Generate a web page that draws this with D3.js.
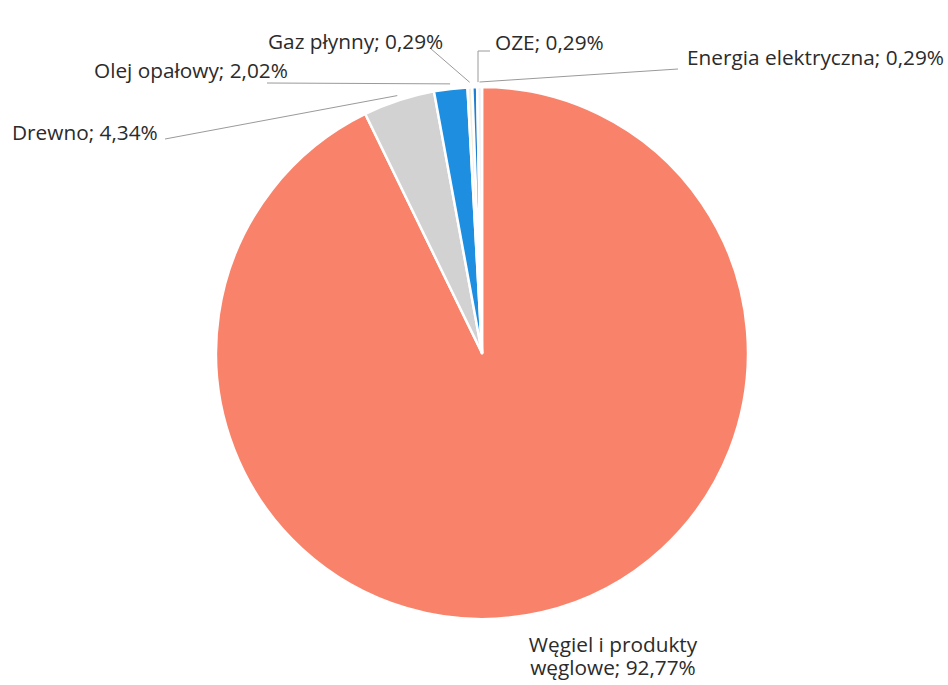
<!DOCTYPE html>
<html>
<head>
<meta charset="utf-8">
<script src="https://cdn.jsdelivr.net/npm/d3@7"></script>
<style>
  html, body { margin: 0; padding: 0; background: #fff; }
  svg { display: block; }
  text { font-family: "Open Sans", Lato, sans-serif; fill: #2b2b2b; }
</style>
</head>
<body>
<svg id="chart" width="948" height="685"></svg>
<script>
// Struktura paliw – udział procentowy
const categories = ["Węgiel i produkty węglowe", "Drewno", "Olej opałowy", "Gaz płynny", "OZE", "Energia elektryczna"];
const values = [92.77, 4.34, 2.02, 0.29, 0.29, 0.29];
const valueLabels = ["92,77%", "4,34%", "2,02%", "0,29%", "0,29%", "0,29%"];
const colors = ["#F9836A", "#D2D2D2", "#1E8FE0", "#F4EFDC", "#1F7FD0", "#EEF3F8"];

const W = 948, H = 685;
const cx = 482, cy = 353, R = 266;
const svg = d3.select("#chart");

const data = categories.map((c, i) => ({ name: c, value: values[i], label: valueLabels[i], color: colors[i] }));

const pie = d3.pie().sort(null).value(d => d.value).startAngle(0).endAngle(2 * Math.PI);
const arcs = pie(data);
const arc = d3.arc().innerRadius(0).outerRadius(R);

const g = svg.append("g").attr("transform", `translate(${cx},${cy})`);

g.selectAll("path.slice")
  .data(arcs)
  .join("path")
  .attr("class", "slice")
  .attr("d", arc)
  .attr("fill", d => d.data.color)
  .attr("stroke", "#fff")
  .attr("stroke-width", 2.5)
  .attr("stroke-linejoin", "round");

// point just outside the rim at the middle of a slice
function rimPoint(a, off) {
  const ang = (a.startAngle + a.endAngle) / 2;
  const r = R + off;
  return [cx + r * Math.sin(ang), cy - r * Math.cos(ang)];
}

// label placement (text start, baseline and leader path towards the slice)
const fs = 20.8;
const layout = {
  "Drewno":               { x: 12,  y: 140, leader: [[165, 139]] },
  "Olej opałowy":         { x: 94,  y: 78,  leader: [[267, 83]] },
  "Gaz płynny":           { x: 268, y: 49,  leader: [[430, 48]] },
  "OZE":                  { x: 495, y: 50,  leader: [[490, 51], [478, 51]] },
  "Energia elektryczna":  { x: 687, y: 65,  leader: [[678, 69]] }
};

const leaders = svg.append("g")
  .attr("fill", "none")
  .attr("stroke", "#9a9a9a")
  .attr("stroke-width", 1);

const labels = svg.append("g").attr("font-size", fs);

arcs.forEach(a => {
  const name = a.data.name;
  const L = layout[name];
  if (L) {
    const end = rimPoint(a, 5);
    const pts = L.leader.concat([name === "OZE" ? [L.leader[1][0], end[1]] : end]);
    leaders.append("path").attr("d", d3.line()(pts));
    labels.append("text")
      .attr("x", L.x).attr("y", L.y)
      .text(`${name}; ${a.data.label}`);
  } else {
    // main slice: two-line label under the pie
    labels.append("text").attr("text-anchor", "middle")
      .attr("x", 613).attr("y", 652).text("Węgiel i produkty");
    labels.append("text").attr("text-anchor", "middle")
      .attr("x", 613).attr("y", 675).text(`węglowe; ${a.data.label}`);
  }
});
</script>
</body>
</html>
